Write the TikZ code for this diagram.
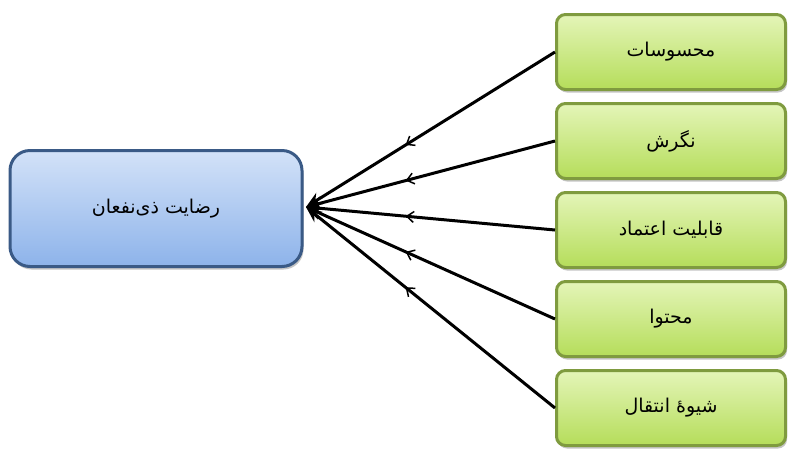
\documentclass[tikz,border=0pt]{standalone}
\usepackage{fontspec}
\newfontfamily\arabicfont[Script=Arabic]{DejaVu Sans}
\TeXXeTstate=1
\usetikzlibrary{arrows.meta,shadows,decorations.markings}
\definecolor{bluetop}{HTML}{D3E2F8}
\definecolor{bluebot}{HTML}{8DB3EA}
\definecolor{blueedge}{HTML}{3A5A86}
\definecolor{greentop}{HTML}{E4F5B8}
\definecolor{greenbot}{HTML}{B5DD5A}
\definecolor{greenedge}{HTML}{7F9B3F}
\tikzset{
  mainbox/.style={draw=blueedge, line width=3pt, rounded corners=20pt,
    top color=bluetop, bottom color=bluebot, minimum width=292pt, minimum height=116pt,
    drop shadow={shadow xshift=1.5pt, shadow yshift=-3pt, fill=black!45, opacity=0.5},
    font=\arabicfont\fontsize{19}{22}\selectfont},
  itembox/.style={draw=greenedge, line width=3pt, rounded corners=9pt,
    top color=greentop, bottom color=greenbot, minimum width=229pt, minimum height=75pt,
    drop shadow={shadow xshift=1.5pt, shadow yshift=-3pt, fill=black!45, opacity=0.5},
    font=\arabicfont\fontsize{19}{22}\selectfont},
  link/.style={black, line width=3pt, -{Stealth[length=16pt,width=13pt]},
    postaction={decorate},
    decoration={markings, mark=at position 0.6 with {\arrow[line width=1.5pt]{Straight Barb[length=7pt,width=11pt]}}}}
}
\begin{document}
\begin{tikzpicture}[x=1pt,y=-1pt]
\useasboundingbox (0,0) rectangle (796,451);
\fill[white] (0,0) rectangle (796,451);
\node[mainbox] (L) at (156,208.5) {\beginR رضایت ذی‌نفعان\endR};
\node[itembox] (b1) at (671,52) {\beginR محسوسات\endR};
\node[itembox] (b2) at (671,141) {\beginR نگرش\endR};
\node[itembox] (b3) at (671,230) {\beginR قابلیت اعتماد\endR};
\node[itembox] (b4) at (671,319) {\beginR محتوا\endR};
\node[itembox] (b5) at (671,408) {\beginR شیوهٔ انتقال\endR};
\coordinate (hub) at (306,207);
\foreach \b in {b1,b2,b3,b4,b5}{
  \draw[link] (\b.west) -- (hub);
}
\end{tikzpicture}
\end{document}
